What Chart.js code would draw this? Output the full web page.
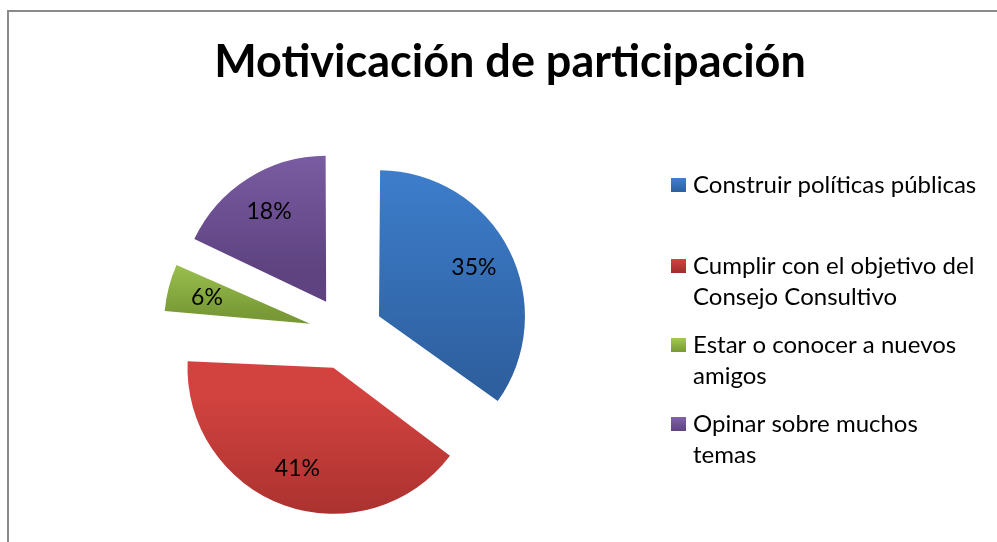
<!DOCTYPE html>
<html>
<head>
<meta charset="utf-8">
<script src="https://cdn.jsdelivr.net/npm/chart.js@4"></script>
<style>
  html, body { margin: 0; padding: 0; background: #fff; }
  #wrap { position: relative; width: 997px; height: 542px; }
  #frame { position: absolute; left: 7px; top: 10px; right: -4px; bottom: -4px;
           border-left: 2px solid #8a8a8a; border-top: 2px solid #8a8a8a; }
  canvas { position: absolute; left: 0; top: 0; }
</style>
</head>
<body>
<div id="wrap">
  <div id="frame"></div>
  <canvas id="pieChart" width="997" height="542"></canvas>
</div>
<script>
// datos del grafico
const chartTitle = "Motivicación de participación";
const categories = [
  ["Construir políticas públicas"],
  ["Cumplir con el objetivo del", "Consejo Consultivo"],
  ["Estar o conocer a nuevos", "amigos"],
  ["Opinar sobre muchos", "temas"]
];
const values = [35, 41, 6, 18];

// colores (arriba / abajo del degradado)
const topColors = ["#3e80cf", "#d2433f", "#a2c954", "#8162ab"];
const bottomColors = ["#2e5f9e", "#a02d2b", "#789936", "#5e4380"];

const RADIUS = 146;
const EXPLODE = 37;
const FONT = "Lato, 'Open Sans', sans-serif";

const total = values.reduce((a, b) => a + b, 0);

// extension vertical de cada porcion, para el degradado
function sliceExtent(chart, i) {
  const area = chart.chartArea;
  const cx = (area.left + area.right) / 2;
  const cy = (area.top + area.bottom) / 2;
  let before = 0;
  for (let k = 0; k < i; k++) before += values[k];
  const a0 = -Math.PI / 2 + before / total * 2 * Math.PI;
  const a1 = a0 + values[i] / total * 2 * Math.PI;
  const mid = (a0 + a1) / 2;
  const oy = cy + Math.sin(mid) * EXPLODE;
  const ys = [oy, oy + Math.sin(a0) * RADIUS, oy + Math.sin(a1) * RADIUS];
  [Math.PI / 2, 3 * Math.PI / 2].forEach(a => {
    let t = a;
    while (t < a0) t += 2 * Math.PI;
    if (t <= a1) ys.push(oy + Math.sin(t) * RADIUS);
  });
  return [Math.min(...ys), Math.max(...ys)];
}

function sliceFill(c) {
  const chart = c.chart;
  if (!chart.chartArea) return topColors[c.dataIndex];
  const [y0, y1] = sliceExtent(chart, c.dataIndex);
  const g = chart.ctx.createLinearGradient(0, y0, 0, y1);
  g.addColorStop(0, topColors[c.dataIndex]);
  g.addColorStop(1, bottomColors[c.dataIndex]);
  return g;
}

// titulo, leyenda y porcentajes
const excelLook = {
  id: "excelLook",
  beforeDatasetsDraw(chart) {
    // mantener el mismo radio en todas las porciones separadas
    chart.getDatasetMeta(0).data.forEach(arc => {
      const off = (arc.options.offset || 0) / 4;
      const fix = 1 - Math.sin(Math.min(Math.PI, arc.circumference));
      arc.outerRadius = RADIUS - off * fix;
    });
  },
  afterDatasetsDraw(chart) {
    const ctx = chart.ctx;
    ctx.save();
    ctx.fillStyle = "#000";
    ctx.textAlign = "center";
    ctx.textBaseline = "middle";
    ctx.font = "23px " + FONT;
    chart.getDatasetMeta(0).data.forEach((arc, i) => {
      const mid = (arc.startAngle + arc.endAngle) / 2;
      const d = EXPLODE + RADIUS * 0.73;
      const pct = Math.round(values[i] / total * 100) + "%";
      ctx.fillText(pct, arc.x + Math.cos(mid) * d, arc.y + Math.sin(mid) * d);
    });
    ctx.restore();
  },
  afterDraw(chart) {
    const ctx = chart.ctx;
    ctx.save();
    ctx.fillStyle = "#000";
    ctx.textAlign = "center";
    ctx.textBaseline = "alphabetic";
    ctx.font = "bold 45px " + FONT;
    ctx.fillText(chartTitle, 510, 77);

    // leyenda
    const firstLine = [185, 266, 345, 424];
    const lineH = 31;
    ctx.textAlign = "left";
    ctx.textBaseline = "middle";
    ctx.font = "24px " + FONT;
    categories.forEach((lines, i) => {
      const y = firstLine[i];
      const g = ctx.createLinearGradient(0, y - 7, 0, y + 7);
      g.addColorStop(0, topColors[i]);
      g.addColorStop(1, bottomColors[i]);
      ctx.fillStyle = g;
      ctx.fillRect(671, y - 7, 15, 14);
      ctx.fillStyle = "#000";
      lines.forEach((t, k) => ctx.fillText(t, 693, y + k * lineH));
    });
    ctx.restore();
  }
};

const ctx = document.getElementById("pieChart").getContext("2d");
new Chart(ctx, {
  type: "pie",
  data: {
    labels: categories,
    datasets: [{
      data: values,
      backgroundColor: sliceFill,
      borderWidth: 0,
      offset: EXPLODE * 4
    }]
  },
  options: {
    responsive: false,
    animation: false,
    events: [],
    radius: RADIUS,
    layout: { padding: { left: 0, right: 305, top: 124, bottom: 0 } },
    plugins: {
      legend: { display: false },
      title: { display: false },
      tooltip: { enabled: false }
    }
  },
  plugins: [excelLook]
});
</script>
</body>
</html>
